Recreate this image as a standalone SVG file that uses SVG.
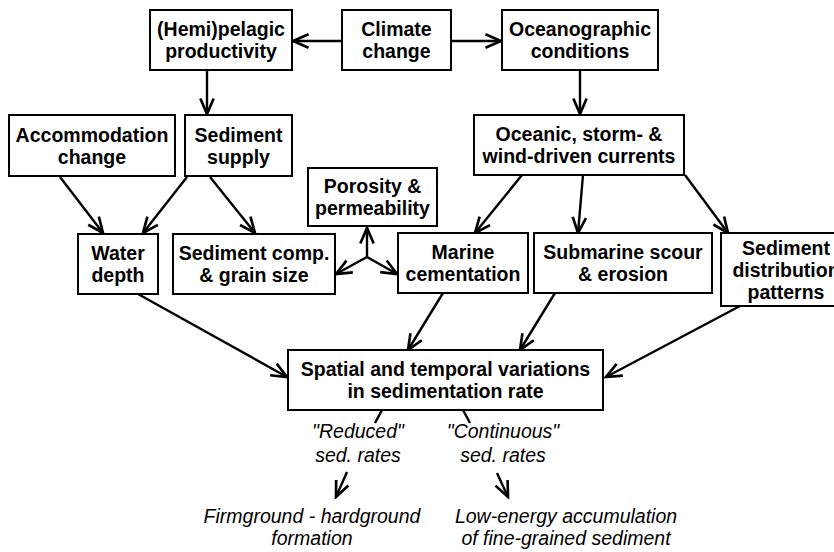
<svg xmlns="http://www.w3.org/2000/svg" width="834" height="552" viewBox="0 0 834 552">
<defs>
<marker id="ah" markerUnits="userSpaceOnUse" markerWidth="20" markerHeight="20" viewBox="-16 -8 18 16" refX="0" refY="0" orient="auto">
<path d="M-14,-6 L0,0 L-14,6" fill="none" stroke="#000" stroke-width="2.4"/>
</marker>
</defs>
<style>
rect{fill:#fff;stroke:#000;stroke-width:2}
.b{font-family:"Liberation Sans",Arial,sans-serif;font-weight:bold;font-size:19.5px;text-anchor:middle;fill:#000}
.i{font-family:"Liberation Sans",Arial,sans-serif;font-style:italic;font-size:19.5px;text-anchor:middle;fill:#000}
#connectors line{stroke:#000;stroke-width:2.4;fill:none}
.a{marker-end:url(#ah)}
</style>
<rect x="0" y="0" width="834" height="552" style="stroke:none;fill:#fff"/>
<g id="connectors">
<line class="a" x1="342" y1="41" x2="293" y2="41"/>
<line class="a" x1="451" y1="41" x2="501" y2="41"/>
<line class="a" x1="207" y1="70" x2="207" y2="114"/>
<line class="a" x1="580" y1="70" x2="580" y2="114"/>
<line class="a" x1="60" y1="177" x2="103" y2="233"/>
<line class="a" x1="187" y1="177" x2="143" y2="233"/>
<line class="a" x1="210" y1="177" x2="255" y2="233"/>
<line class="a" x1="522" y1="175" x2="475" y2="233"/>
<line class="a" x1="583" y1="175" x2="578" y2="233"/>
<line class="a" x1="685" y1="175" x2="728" y2="233"/>
<line class="a" x1="367" y1="257" x2="367" y2="228"/>
<line class="a" x1="367" y1="257" x2="336" y2="274"/>
<line class="a" x1="367" y1="257" x2="397" y2="274"/>
<line class="a" x1="138" y1="294" x2="287" y2="377"/>
<line class="a" x1="443" y1="293" x2="408" y2="350"/>
<line class="a" x1="555" y1="293" x2="520" y2="350"/>
<line class="a" x1="740" y1="306" x2="606" y2="377"/>
<line x1="382" y1="410" x2="375" y2="423"/>
<line x1="463" y1="410" x2="470" y2="423"/>
<line class="a" x1="347" y1="472" x2="336" y2="497"/>
<line class="a" x1="497" y1="473" x2="508" y2="497"/>
</g>
<g id="hemi"><rect x="150" y="10" width="142" height="60"/><text class="b" x="221" y="36">(Hemi)pelagic</text><text class="b" x="221" y="58">productivity</text></g>
<g id="climate"><rect x="342" y="10" width="109" height="60"/><text class="b" x="396.5" y="36">Climate</text><text class="b" x="396.5" y="58">change</text></g>
<g id="oceanographic"><rect x="502" y="10" width="156" height="60"/><text class="b" x="580" y="36">Oceanographic</text><text class="b" x="580" y="58">conditions</text></g>
<g id="accommodation"><rect x="9" y="115" width="166" height="61"/><text class="b" x="92" y="141.5">Accommodation</text><text class="b" x="92" y="163.5">change</text></g>
<g id="supply"><rect x="185" y="115" width="107" height="61"/><text class="b" x="238.5" y="141.5">Sediment</text><text class="b" x="238.5" y="163.5">supply</text></g>
<g id="currents"><rect x="474" y="115" width="210" height="60"/><text class="b" x="579" y="141">Oceanic, storm- &amp;</text><text class="b" x="579" y="163">wind-driven currents</text></g>
<g id="porosity"><rect x="308" y="168" width="129" height="58"/><text class="b" x="372.5" y="193">Porosity &amp;</text><text class="b" x="372.5" y="215">permeability</text></g>
<g id="water"><rect x="78" y="234" width="80" height="60"/><text class="b" x="118" y="259.5">Water</text><text class="b" x="118" y="281.5">depth</text></g>
<g id="comp"><rect x="173" y="234" width="162" height="60"/><text class="b" x="254" y="259.5">Sediment comp.</text><text class="b" x="254" y="281.5">&amp; grain size</text></g>
<g id="marine"><rect x="398" y="233" width="130" height="60"/><text class="b" x="463" y="259">Marine</text><text class="b" x="463" y="281">cementation</text></g>
<g id="scour"><rect x="534" y="233" width="178" height="60"/><text class="b" x="623" y="259">Submarine scour</text><text class="b" x="623" y="281">&amp; erosion</text></g>
<g id="distribution"><rect x="721" y="233" width="130" height="73"/><text class="b" x="786" y="254.5">Sediment</text><text class="b" x="786" y="276.5">distribution</text><text class="b" x="786" y="298.5">patterns</text></g>
<g id="spatial"><rect x="288" y="350" width="315" height="60"/><text class="b" x="445.5" y="376">Spatial and temporal variations</text><text class="b" x="445.5" y="398">in sedimentation rate</text></g>
<g id="reduced"><text class="i" x="358" y="438">"Reduced"</text><text class="i" x="358" y="462">sed. rates</text></g>
<g id="continuous"><text class="i" x="503" y="438">"Continuous"</text><text class="i" x="503" y="462">sed. rates</text></g>
<g id="firmground"><text class="i" x="312" y="523">Firmground - hardground</text><text class="i" x="312" y="545">formation</text></g>
<g id="lowenergy"><text class="i" x="566" y="523">Low-energy accumulation</text><text class="i" x="566" y="545">of fine-grained sediment</text></g>
</svg>
